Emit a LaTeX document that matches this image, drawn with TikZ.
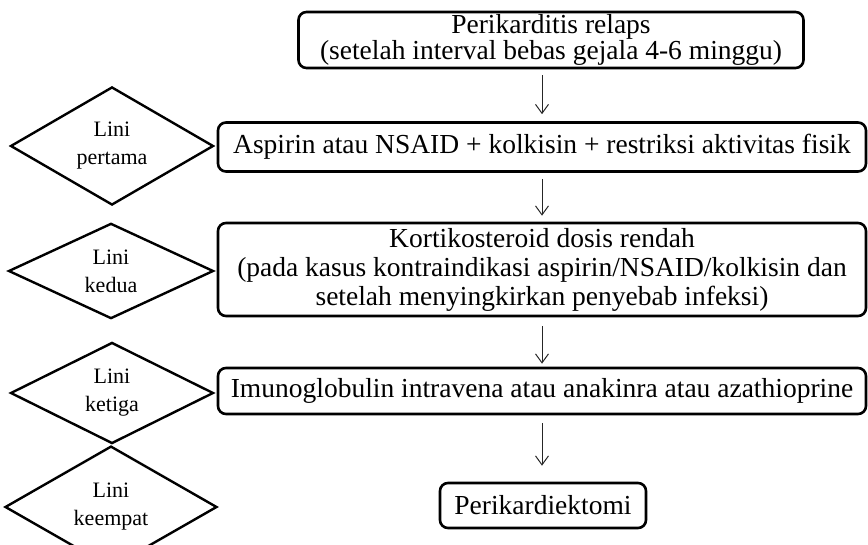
\documentclass[tikz,border=0pt]{standalone}
\usepackage{fontspec}
\setmainfont{Liberation Serif}
\usetikzlibrary{shapes.geometric,arrows.meta}
\tikzset{
  stepbox/.style={draw=black, line width=2.6pt, rounded corners=8pt, align=center,
    font=\fontsize{27.5}{29}\selectfont, inner sep=0pt},
  linebox/.style={draw=black, line width=2.4pt, diamond, align=center, inner sep=0pt,
    font=\fontsize{22}{28}\selectfont},
  flow/.style={draw=black!85, line width=1pt, -{Straight Barb[length=9pt,width=13pt]}}
}
\begin{document}
\begin{tikzpicture}[x=1pt,y=-1pt]
\useasboundingbox (0,0) rectangle (868,545);
\coordinate (ax) at (542,0);
\node[stepbox, minimum width=505, minimum height=56, font=\fontsize{27.5}{26}\selectfont] (b1) at (551,40)
  {Perikarditis relaps\\(setelah interval bebas gejala 4-6 minggu)};
\node[stepbox, minimum width=648, minimum height=49] (b2) at (542,147)
  {Aspirin atau NSAID + kolkisin + restriksi aktivitas fisik};
\node[stepbox, minimum width=648, minimum height=93] (b3) at (542,269.5)
  {Kortikosteroid dosis rendah\\(pada kasus kontraindikasi aspirin/NSAID/kolkisin dan\\setelah menyingkirkan penyebab infeksi)};
\node[stepbox, minimum width=648, minimum height=46] (b4) at (542,391)
  {Imunoglobulin intravena atau anakinra atau azathioprine};
\node[stepbox, minimum width=206, minimum height=45] (b5) at (543,505.5)
  {Perikardiektomi};
\node[linebox, minimum width=203, minimum height=85] (d1) at (112,146) {Lini\\pertama};
\node[linebox, minimum width=205, minimum height=82] (d2) at (111,271) {Lini\\kedua};
\node[linebox, minimum width=203, minimum height=83] (d3) at (112,393) {Lini\\ketiga};
\node[linebox, minimum width=212, minimum height=88] (d4) at (111,507) {Lini\\keempat};
\draw[flow, shorten <=6pt, shorten >=7pt] (b1.south -| ax) -- (b2.north -| ax);
\draw[flow, shorten <=6pt, shorten >=6pt] (b2.south -| ax) -- (b3.north -| ax);
\draw[flow, shorten <=9pt, shorten >=3pt] (b3.south -| ax) -- (b4.north -| ax);
\draw[flow, shorten <=8pt, shorten >=16pt] (b4.south -| ax) -- (b5.north -| ax);
\end{tikzpicture}
\end{document}
